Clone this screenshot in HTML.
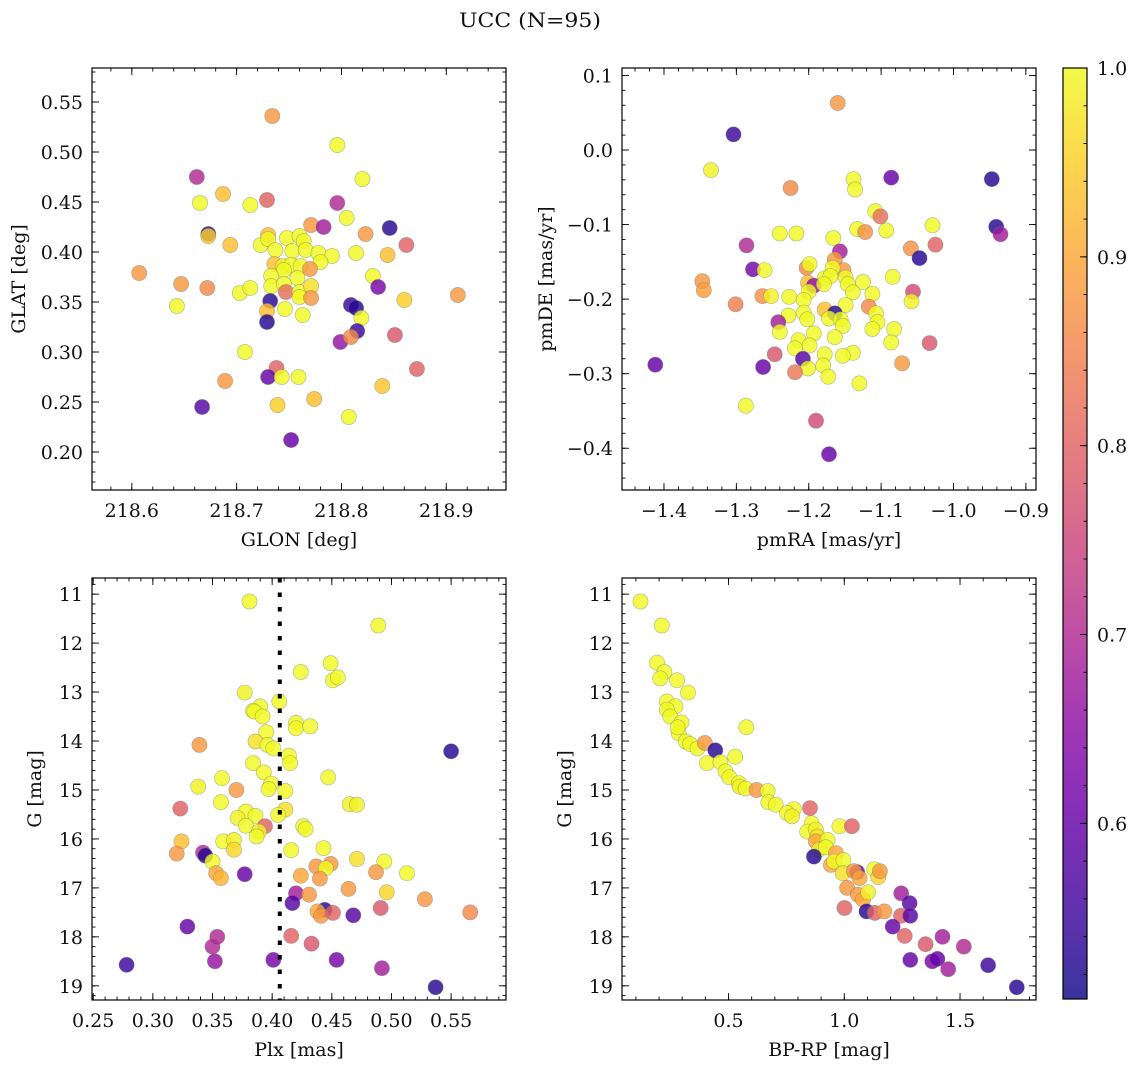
<!DOCTYPE html>
<html><head><meta charset="utf-8">
<style>
html,body{margin:0;padding:0;background:#fff;}
svg{display:block;font-family:"DejaVu Serif","Liberation Serif",serif;}
</style></head>
<body>
<svg id="fig" width="1136" height="1067" viewBox="0 0 1136 1067" xmlns="http://www.w3.org/2000/svg">
<text x="530" y="27" font-size="20" text-anchor="middle" fill="#111" textLength="142" lengthAdjust="spacingAndGlyphs">UCC (N=95)</text>
</svg>
<script>
// ---------- Panel 1: GLON / GLAT ----------
const p1_glon = [218.734,218.796,218.820,218.662,218.687,218.665,218.713,218.729,218.796,218.805,218.771,218.783,218.846,218.823,218.862,218.673,218.673,218.694,218.723,218.730,218.730,218.737,218.748,218.760,218.764,218.753,218.766,218.778,218.791,218.780,218.814,218.844,218.736,218.744,218.752,218.761,218.770,218.745,218.733,218.758,218.733,218.745,218.747,218.760,218.760,218.771,218.771,218.607,218.647,218.672,218.643,218.703,218.713,218.732,218.729,218.729,218.746,218.763,218.809,218.814,218.819,218.830,218.835,218.860,218.911,218.815,218.799,218.809,218.851,218.708,218.872,218.738,218.730,218.743,218.759,218.689,218.839,218.667,218.739,218.774,218.807,218.752];
const p1_glat = [0.536,0.507,0.473,0.475,0.458,0.449,0.447,0.452,0.449,0.434,0.427,0.425,0.424,0.418,0.407,0.418,0.416,0.407,0.407,0.417,0.413,0.402,0.414,0.416,0.411,0.401,0.402,0.399,0.396,0.390,0.399,0.397,0.388,0.386,0.387,0.386,0.383,0.382,0.376,0.374,0.366,0.368,0.360,0.360,0.355,0.366,0.354,0.379,0.368,0.364,0.346,0.359,0.364,0.351,0.341,0.330,0.343,0.337,0.347,0.344,0.334,0.376,0.365,0.352,0.357,0.321,0.310,0.315,0.317,0.300,0.283,0.284,0.275,0.275,0.275,0.271,0.266,0.245,0.247,0.253,0.235,0.212];
const p1_prob = [0.88,1.0,1.0,0.70,0.93,1.0,1.0,0.80,0.70,1.0,0.88,0.68,0.53,0.88,0.80,0.53,0.95,0.93,1.0,0.93,1.0,1.0,1.0,1.0,1.0,1.0,1.0,1.0,1.0,1.0,1.0,0.93,0.93,0.99,1.0,1.0,0.88,1.0,1.0,1.0,1.0,1.0,0.82,1.0,1.0,0.97,0.88,0.88,0.88,0.86,1.0,1.0,1.0,0.53,0.93,0.53,1.0,1.0,0.55,0.53,1.0,1.0,0.62,0.95,0.88,0.55,0.66,0.86,0.78,1.0,0.80,0.80,0.60,1.0,1.0,0.88,0.94,0.58,0.95,0.93,1.0,0.60];
const p1_xticks = [218.6,218.7,218.8,218.9];
const p1_xtickLabels = ["218.6","218.7","218.8","218.9"];
const p1_yticks = [0.20,0.25,0.30,0.35,0.40,0.45,0.50,0.55];
const p1_ytickLabels = ["0.20","0.25","0.30","0.35","0.40","0.45","0.50","0.55"];

// ---------- Panel 2: pmRA / pmDE ----------
const p2_pmra = [-1.160,-1.304,-1.335,-1.086,-0.947,-1.138,-1.136,-1.225,-1.108,-1.101,-1.029,-0.941,-0.935,-1.133,-1.122,-1.093,-1.240,-1.217,-1.286,-1.166,-1.059,-1.025,-1.157,-1.047,-1.164,-1.277,-1.261,-1.203,-1.199,-1.152,-1.167,-1.084,-1.347,-1.345,-1.178,-1.170,-1.149,-1.146,-1.125,-1.201,-1.193,-1.200,-1.179,-1.112,-1.056,-1.139,-1.301,-1.264,-1.252,-1.227,-1.207,-1.058,-1.149,-1.117,-1.178,-1.228,-1.207,-1.202,-1.164,-1.172,-1.156,-1.107,-1.105,-1.242,-1.153,-1.112,-1.082,-1.240,-1.193,-1.164,-1.214,-1.033,-1.086,-1.199,-1.219,-1.247,-1.139,-1.178,-1.153,-1.208,-1.071,-1.263,-1.412,-1.201,-1.180,-1.219,-1.173,-1.130,-1.287,-1.190,-1.172];
const p2_pmde = [0.063,0.021,-0.027,-0.037,-0.039,-0.039,-0.053,-0.051,-0.082,-0.089,-0.101,-0.103,-0.113,-0.106,-0.110,-0.108,-0.112,-0.112,-0.128,-0.118,-0.132,-0.127,-0.136,-0.145,-0.147,-0.160,-0.161,-0.158,-0.153,-0.161,-0.158,-0.170,-0.176,-0.188,-0.172,-0.169,-0.171,-0.180,-0.177,-0.178,-0.182,-0.190,-0.180,-0.193,-0.190,-0.191,-0.207,-0.196,-0.196,-0.197,-0.201,-0.203,-0.208,-0.210,-0.214,-0.222,-0.218,-0.227,-0.219,-0.226,-0.227,-0.219,-0.231,-0.231,-0.236,-0.240,-0.240,-0.244,-0.246,-0.251,-0.255,-0.259,-0.258,-0.262,-0.266,-0.274,-0.272,-0.274,-0.276,-0.280,-0.286,-0.291,-0.288,-0.293,-0.289,-0.298,-0.304,-0.313,-0.343,-0.363,-0.408];
const p2_prob = [0.88,0.55,0.99,0.60,0.53,1.0,1.0,0.86,1.0,0.82,1.0,0.53,0.68,1.0,0.87,1.0,1.0,1.0,0.70,1.0,0.87,0.80,0.68,0.53,0.88,0.62,1.0,0.86,1.0,0.88,1.0,1.0,0.88,0.89,1.0,1.0,1.0,1.0,1.0,0.93,0.66,1.0,1.0,1.0,0.76,1.0,0.84,0.87,0.99,1.0,1.0,0.99,1.0,0.86,0.93,1.0,1.0,1.0,0.53,1.0,1.0,1.0,1.0,0.68,1.0,1.0,1.0,1.0,1.0,1.0,1.0,0.78,1.0,1.0,1.0,0.78,1.0,1.0,1.0,0.58,0.88,0.60,0.60,1.0,1.0,0.83,1.0,1.0,1.0,0.76,0.60];
const p2_xticks = [-1.4,-1.3,-1.2,-1.1,-1.0,-0.9];
const p2_xtickLabels = ["\u22121.4","\u22121.3","\u22121.2","\u22121.1","\u22121.0","\u22120.9"];
const p2_yticks = [-0.4,-0.3,-0.2,-0.1,0.0,0.1];
const p2_ytickLabels = ["\u22120.4","\u22120.3","\u22120.2","\u22120.1","0.0","0.1"];

// ---------- Panel 3: Plx / G ----------
const p3_plx = [0.381,0.489,0.449,0.424,0.451,0.455,0.377,0.406,0.390,0.384,0.385,0.392,0.420,0.420,0.432,0.395,0.386,0.396,0.401,0.339,0.414,0.415,0.384,0.393,0.550,0.358,0.447,0.399,0.397,0.338,0.370,0.411,0.357,0.465,0.471,0.323,0.378,0.411,0.371,0.405,0.386,0.394,0.378,0.389,0.387,0.426,0.428,0.359,0.368,0.368,0.324,0.320,0.342,0.344,0.416,0.443,0.350,0.471,0.494,0.353,0.357,0.377,0.437,0.449,0.445,0.424,0.440,0.487,0.513,0.464,0.496,0.420,0.431,0.528,0.417,0.566,0.491,0.444,0.438,0.441,0.451,0.468,0.329,0.416,0.354,0.350,0.433,0.352,0.401,0.454,0.278,0.492,0.537];
const p3_g = [11.15,11.64,12.41,12.59,12.76,12.70,13.01,13.19,13.29,13.38,13.40,13.50,13.63,13.74,13.70,13.82,14.01,14.08,14.15,14.08,14.30,14.45,14.45,14.64,14.21,14.76,14.74,14.87,14.98,14.93,15.00,15.02,15.25,15.29,15.30,15.38,15.44,15.40,15.57,15.51,15.53,15.74,15.73,15.85,15.95,15.74,15.80,16.05,16.02,16.22,16.05,16.30,16.28,16.34,16.23,16.19,16.46,16.41,16.46,16.70,16.80,16.72,16.56,16.51,16.60,16.75,16.81,16.68,16.70,17.02,17.09,17.11,17.14,17.23,17.31,17.50,17.41,17.45,17.48,17.57,17.51,17.56,17.79,17.98,18.00,18.20,18.14,18.50,18.47,18.47,18.57,18.64,19.03];
const p3_prob = [1.0,1.0,1.0,1.0,1.0,1.0,0.99,1.0,1.0,1.0,1.0,1.0,1.0,1.0,1.0,1.0,0.97,1.0,1.0,0.88,1.0,1.0,1.0,1.0,0.53,1.0,1.0,1.0,1.0,0.99,0.88,1.0,1.0,0.99,0.99,0.80,1.0,0.97,0.99,1.0,1.0,0.80,1.0,0.99,1.0,0.99,1.0,1.0,0.99,0.96,0.93,0.88,0.70,0.53,1.0,1.0,1.0,0.97,1.0,0.90,0.92,0.60,0.88,0.88,1.0,0.90,0.88,0.88,1.0,0.88,0.96,0.68,0.88,0.88,0.58,0.86,0.78,0.53,0.90,0.88,0.80,0.58,0.60,0.80,0.70,0.70,0.78,0.66,0.62,0.62,0.55,0.68,0.53];
const p3_xticks = [0.25,0.30,0.35,0.40,0.45,0.50,0.55];
const p3_xtickLabels = ["0.25","0.30","0.35","0.40","0.45","0.50","0.55"];
const p3_yticks = [11,12,13,14,15,16,17,18,19];
const p3_ytickLabels = ["11","12","13","14","15","16","17","18","19"];
const p3_plxLine = [0.4064];

// ---------- Panel 4: BP-RP / G ----------
const p4_bprp = [0.120,0.212,0.191,0.223,0.205,0.278,0.325,0.234,0.271,0.234,0.248,0.297,0.285,0.280,0.577,0.315,0.334,0.366,0.398,0.443,0.529,0.407,0.465,0.487,0.504,0.545,0.548,0.574,0.621,0.669,0.672,0.704,0.782,0.753,0.774,0.852,0.979,1.033,0.859,0.840,0.877,0.884,0.877,0.928,0.891,0.920,0.869,0.964,0.942,0.956,0.996,0.993,1.056,1.042,1.066,1.129,1.147,1.154,1.012,1.059,1.081,1.103,1.001,1.096,1.132,1.173,1.245,1.246,1.282,1.285,1.209,1.261,1.351,1.424,1.516,1.285,1.380,1.402,1.449,1.621,1.745];
const p4_g = [11.15,11.64,12.40,12.59,12.72,12.76,13.01,13.19,13.29,13.36,13.50,13.62,13.84,13.72,13.72,14.01,14.06,14.15,14.04,14.19,14.32,14.45,14.43,14.62,14.74,14.86,14.93,14.97,15.00,15.02,15.25,15.30,15.39,15.47,15.54,15.37,15.74,15.74,15.68,15.85,15.81,15.95,16.05,16.02,16.22,16.17,16.36,16.29,16.53,16.46,16.43,16.70,16.68,16.66,16.80,16.62,16.78,16.66,17.00,17.14,17.24,17.09,17.41,17.48,17.51,17.48,17.57,17.11,17.31,17.57,17.79,17.98,18.15,18.00,18.20,18.47,18.50,18.45,18.66,18.58,19.03];
const p4_prob = [1.0,1.0,1.0,1.0,1.0,1.0,1.0,1.0,1.0,1.0,1.0,1.0,1.0,1.0,1.0,1.0,1.0,1.0,0.88,0.53,1.0,1.0,1.0,1.0,1.0,1.0,0.99,1.0,0.88,1.0,1.0,1.0,1.0,1.0,0.99,0.80,1.0,0.80,1.0,1.0,0.99,0.97,0.90,1.0,0.99,1.0,0.53,0.90,0.90,1.0,1.0,0.97,0.60,0.88,0.90,1.0,0.96,0.88,0.88,0.88,0.90,0.99,0.80,0.53,0.80,0.88,0.80,0.68,0.58,0.58,0.60,0.80,0.78,0.68,0.70,0.60,0.62,0.60,0.68,0.55,0.53];
const p4_xticks = [0.5,1.0,1.5];
const p4_xtickLabels = ["0.5","1.0","1.5"];
const p4_yticks = [11,12,13,14,15,16,17,18,19];
const p4_ytickLabels = ["11","12","13","14","15","16","17","18","19"];

// ---------- Colorbar ----------
const cb_ticks = [0.6,0.7,0.8,0.9,1.0];
const cb_tickLabels = ["0.6","0.7","0.8","0.9","1.0"];
const cb_range = [0.507,1.0];

const FS = 19;
const NS = "http://www.w3.org/2000/svg";
const svg = document.getElementById("fig");
function mk(tag, attrs, parent){
  const e = document.createElementNS(NS, tag);
  for (const k in attrs) e.setAttribute(k, attrs[k]);
  (parent||svg).appendChild(e);
  return e;
}
const plasma = [[13,8,135],[65,4,157],[106,0,168],[143,13,164],[177,42,144],[204,71,120],[225,100,98],[242,132,75],[252,166,54],[252,206,37],[240,249,33]];
function cmap(v){
  let t = (v - cb_range[0])/(cb_range[1]-cb_range[0]);
  t = Math.max(0, Math.min(1, t));
  const f = t*10, i = Math.min(9, Math.floor(f)), r = f - i;
  const a = plasma[i], b = plasma[i+1];
  return "rgb(" + [0,1,2].map(k => Math.round(a[k]+(b[k]-a[k])*r)).join(",") + ")";
}
function linScale(d0,d1,r0,r1){ return v => r0 + (v-d0)/(d1-d0)*(r1-r0); }

function drawPanel(cfg){
  const g = mk("g", {});
  
  
  const sx = linScale(cfg.xd[0], cfg.xd[1], cfg.L, cfg.R);
  const sy = linScale(cfg.yd[0], cfg.yd[1], cfg.B, cfg.T);
  const clipId = cfg.name + "-clip";
  const cp = mk("clipPath", {id: clipId}, g);
  mk("rect", {x: cfg.L, y: cfg.T, width: cfg.R-cfg.L, height: cfg.B-cfg.T}, cp);
  const pg = mk("g", {"clip-path": "url(#"+clipId+")"}, g);
  
  
  for (let i = 0; i < cfg.xs.length; i++){
    const c = mk("circle", {cx: sx(cfg.xs[i]).toFixed(1), cy: sy(cfg.ys[i]).toFixed(1), r: 7.6, fill: cmap(cfg.ps[i]), "fill-opacity": 0.82, stroke: "#777", "stroke-opacity": 0.55, "stroke-width": 0.6}, pg);
    
    
  }
  if (cfg.vline){
    for (const v of cfg.vline){
      const ln = mk("line", {x1: sx(v), x2: sx(v), y1: cfg.T, y2: cfg.B, stroke: "#000", "stroke-width": 4, "stroke-dasharray": "4.5 10"}, pg);
      
      
    }
  }
  const tk = mk("g", {stroke: "#000", "stroke-width": 0.9}, g);
  
  
  const eps = 1e-9;
  let n0 = Math.ceil(cfg.xd[0]/cfg.xminor - eps), n1 = Math.floor(cfg.xd[1]/cfg.xminor + eps);
  for (let n = n0; n <= n1; n++){
    const x = sx(n*cfg.xminor);
    mk("line", {x1:x,x2:x,y1:cfg.B,y2:cfg.B-3.5}, tk);
    mk("line", {x1:x,x2:x,y1:cfg.T,y2:cfg.T+3.5}, tk);
  }
  const ylo = Math.min(cfg.yd[0],cfg.yd[1]), yhi = Math.max(cfg.yd[0],cfg.yd[1]);
  n0 = Math.ceil(ylo/cfg.yminor - eps); n1 = Math.floor(yhi/cfg.yminor + eps);
  for (let n = n0; n <= n1; n++){
    const y = sy(n*cfg.yminor);
    mk("line", {x1:cfg.L,x2:cfg.L+3.5,y1:y,y2:y}, tk);
    mk("line", {x1:cfg.R,x2:cfg.R-3.5,y1:y,y2:y}, tk);
  }
  cfg.xt.forEach((v,i) => {
    const x = sx(v);
    mk("line", {x1:x,x2:x,y1:cfg.B,y2:cfg.B-7}, tk);
    mk("line", {x1:x,x2:x,y1:cfg.T,y2:cfg.T+7}, tk);
    const t = mk("text", {x:x, y:cfg.B+27, "font-size":FS, "text-anchor":"middle", fill:"#111", stroke:"none"}, g);
    t.textContent = cfg.xl[i];
    
    
  });
  cfg.yt.forEach((v,i) => {
    const y = sy(v);
    mk("line", {x1:cfg.L,x2:cfg.L+7,y1:y,y2:y}, tk);
    mk("line", {x1:cfg.R,x2:cfg.R-7,y1:y,y2:y}, tk);
    const t = mk("text", {x:cfg.L-9, y:y+7, "font-size":FS, "text-anchor":"end", fill:"#111"}, g);
    t.textContent = cfg.yl[i];
    
    
  });
  const fr = mk("rect", {x:cfg.L, y:cfg.T, width:cfg.R-cfg.L, height:cfg.B-cfg.T, fill:"none", stroke:"#000", "stroke-width":1.2}, g);
  
  
  const xl = mk("text", {x:(cfg.L+cfg.R)/2, y:cfg.B+56, "font-size":FS, "text-anchor":"middle", fill:"#111"}, g);
  xl.textContent = cfg.xlabel;
  
  
  const yl = mk("text", {x:0, y:0, "font-size":FS, "text-anchor":"middle", fill:"#111", transform:"translate("+cfg.ylx+","+((cfg.T+cfg.B)/2)+") rotate(-90)"}, g);
  yl.textContent = cfg.ylabel;
  
  
}

drawPanel({name:"glon-glat-panel", L:92, R:506, T:68, B:490, xd:[218.562,218.957], yd:[0.162,0.584],
  xs:p1_glon, ys:p1_glat, ps:p1_prob, xt:p1_xticks, xl:p1_xtickLabels, yt:p1_yticks, yl:p1_ytickLabels,
  xminor:0.02, yminor:0.01, xlabel:"GLON [deg]", ylabel:"GLAT [deg]", ylx:25});
drawPanel({name:"pm-panel", L:622, R:1036, T:68, B:490, xd:[-1.458,-0.886], yd:[-0.456,0.110],
  xs:p2_pmra, ys:p2_pmde, ps:p2_prob, xt:p2_xticks, xl:p2_xtickLabels, yt:p2_yticks, yl:p2_ytickLabels,
  xminor:0.02, yminor:0.02, xlabel:"pmRA [mas/yr]", ylabel:"pmDE [mas/yr]", ylx:552});
drawPanel({name:"plx-g-panel", L:92, R:506, T:578, B:1000, xd:[0.249,0.596], yd:[19.29,10.67],
  xs:p3_plx, ys:p3_g, ps:p3_prob, xt:p3_xticks, xl:p3_xtickLabels, yt:p3_yticks, yl:p3_ytickLabels,
  xminor:0.01, yminor:0.2, xlabel:"Plx [mas]", ylabel:"G [mag]", ylx:41, vline:p3_plxLine});
drawPanel({name:"cmd-panel", L:622, R:1036, T:578, B:1000, xd:[0.040,1.828], yd:[19.29,10.67],
  xs:p4_bprp, ys:p4_g, ps:p4_prob, xt:p4_xticks, xl:p4_xtickLabels, yt:p4_yticks, yl:p4_ytickLabels,
  xminor:0.1, yminor:0.2, xlabel:"BP-RP [mag]", ylabel:"G [mag]", ylx:571});

// colorbar
(function(){
  const L=1063, R=1087, T=68, B=999;
  const g = mk("g", {});
  
  
  const defs = mk("defs", {}, g);
  const lg = mk("linearGradient", {id:"cbgrad", x1:0, y1:1, x2:0, y2:0}, defs);
  for (let i = 0; i <= 20; i++){
    const v = cb_range[0] + (cb_range[1]-cb_range[0])*i/20;
    mk("stop", {offset: (i/20), "stop-color": cmap(v), "stop-opacity": 0.82}, lg);
  }
  const r = mk("rect", {x:L, y:T, width:R-L, height:B-T, fill:"url(#cbgrad)", stroke:"#000", "stroke-width":1.2}, g);
  
  
  const sy = linScale(cb_range[0], cb_range[1], B, T);
  for (let n = Math.ceil(cb_range[0]/0.02); n <= Math.floor(cb_range[1]/0.02+1e-9); n++){
    const y = sy(n*0.02);
    mk("line", {x1:R, x2:R-3.5, y1:y, y2:y, stroke:"#000", "stroke-width":0.9}, g);
  }
  cb_ticks.forEach((v,i) => {
    const y = sy(v);
    mk("line", {x1:R, x2:R-7, y1:y, y2:y, stroke:"#000", "stroke-width":0.9}, g);
    const t = mk("text", {x:R+10, y:y+7, "font-size":FS, fill:"#111"}, g);
    t.textContent = cb_tickLabels[i];
    
    
  });
})();
</script>
</body></html>
